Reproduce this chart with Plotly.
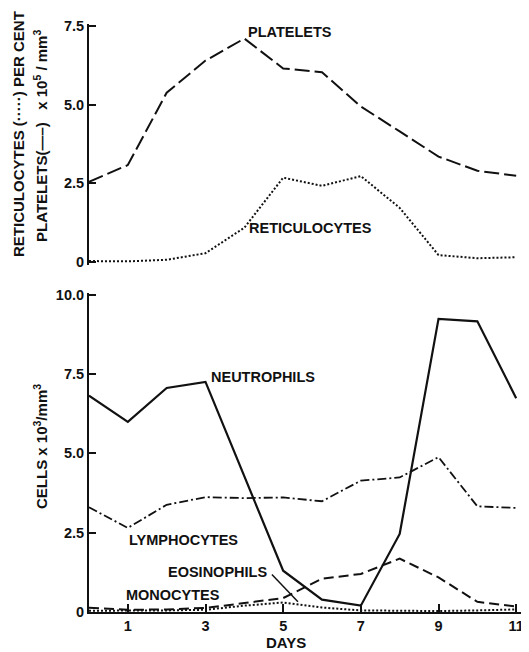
import plotly.graph_objects as go

# ---------------- data ----------------
days = [0, 1, 2, 3, 4, 5, 6, 7, 8, 9, 10, 11]
platelets = [2.55, 3.08, 5.38, 6.4, 7.1, 6.15, 6.03, 4.94, 4.15, 3.35, 2.9, 2.74]
reticulocytes = [0.03, 0.02, 0.07, 0.28, 1.09, 2.68, 2.42, 2.73, 1.72, 0.22, 0.12, 0.15]

neutrophil_days = [0, 1, 2, 3, 5, 6, 7, 8, 9, 10, 11]
neutrophils = [6.82, 5.99, 7.06, 7.25, 1.3, 0.39, 0.2, 2.46, 9.24, 9.16, 6.74]
lymphocytes = [3.3, 2.65, 3.38, 3.62, 3.59, 3.61, 3.49, 4.14, 4.24, 4.88, 3.33, 3.28]
eosinophils = [0.13, 0.07, 0.08, 0.13, 0.28, 0.44, 1.05, 1.2, 1.68, 1.09, 0.32, 0.17]
monocytes = [0.04, 0.04, 0.05, 0.07, 0.2, 0.3, 0.14, 0.05, 0.03, 0.03, 0.05, 0.08]

x_ticks = [1, 3, 5, 7, 9, 11]
x_ticktext = ["1", "3", "5", "7", "9", "11"]
top_ticks = [0, 2.5, 5.0, 7.5]
top_ticktext = ["0", "2.5", "5.0", "7.5"]
bot_ticks = [0, 2.5, 5.0, 7.5, 10.0]
bot_ticktext = ["0", "2.5", "5.0", "7.5", "10.0"]

# ---------------- layout geometry ----------------
# The page body has an 8px margin, so figure pixels = page pixels - 8.
OFF = 8
W, H = 529 - OFF, 652 - OFF
ML, MR, MT, MB = 89 - OFF, 0, 24 - OFF, 652 - 612
PW = W - ML - MR
PH = H - MT - MB
XMAX = 11.33

def frac(page_py):
    return (H - MB - (page_py - OFF)) / PH

top_range = [-0.1, 7.55]
top_px0, top_scale = 262.0, 31.47
top_dom = [frac(top_px0 - top_range[0] * top_scale), min(1.0, frac(top_px0 - top_range[1] * top_scale))]
bot_range = [0, 10.05]
bot_px0, bot_scale = 612.0, 31.73
bot_dom = [max(0.0, frac(bot_px0)), frac(bot_px0 - bot_range[1] * bot_scale)]

FONT = "Liberation Sans"
BLACK = "#111111"

fig = go.Figure()

# top panel
fig.add_trace(go.Scatter(x=days, y=platelets, mode="lines", xaxis="x", yaxis="y",
                         line=dict(color=BLACK, width=2, dash="15px,5px")))
fig.add_trace(go.Scatter(x=days, y=reticulocytes, mode="lines", xaxis="x", yaxis="y",
                         line=dict(color=BLACK, width=2, dash="2px,2px")))

# bottom panel
fig.add_trace(go.Scatter(x=neutrophil_days, y=neutrophils, mode="lines", xaxis="x2", yaxis="y2",
                         line=dict(color=BLACK, width=2.2)))
fig.add_trace(go.Scatter(x=days, y=lymphocytes, mode="lines", xaxis="x2", yaxis="y2",
                         line=dict(color=BLACK, width=1.8, dash="9px,3px,2px,3px")))
fig.add_trace(go.Scatter(x=days, y=eosinophils, mode="lines", xaxis="x2", yaxis="y2",
                         line=dict(color=BLACK, width=2, dash="10px,5px")))
fig.add_trace(go.Scatter(x=days, y=monocytes, mode="lines", xaxis="x2", yaxis="y2",
                         line=dict(color=BLACK, width=2, dash="2px,2px")))

tickfont = dict(family=FONT, size=14.5, color=BLACK)

def bold(lst):
    return ["<b>%s</b>" % t for t in lst]

fig.update_layout(
    width=W, height=H, autosize=False,
    margin=dict(l=ML, r=MR, t=MT, b=MB),
    paper_bgcolor="white", plot_bgcolor="white",
    showlegend=False,
    xaxis=dict(domain=[0, 1], range=[0, XMAX], anchor="y", visible=False),
    yaxis=dict(domain=top_dom, range=top_range, anchor="x",
               showline=True, linecolor=BLACK, linewidth=2, showgrid=False, zeroline=False,
               ticks="inside", ticklen=7, tickwidth=2, tickcolor=BLACK,
               tickvals=top_ticks, ticktext=bold(top_ticktext), tickfont=tickfont),
    xaxis2=dict(domain=[0, 1], range=[0, XMAX], anchor="y2",
                showline=True, linecolor=BLACK, linewidth=2, showgrid=False, zeroline=False,
                ticks="inside", ticklen=8, tickwidth=2, tickcolor=BLACK,
                tickvals=x_ticks, ticktext=bold(x_ticktext), tickfont=tickfont),
    yaxis2=dict(domain=bot_dom, range=bot_range, anchor="x2",
                showline=True, linecolor=BLACK, linewidth=2, showgrid=False, zeroline=False,
                ticks="inside", ticklen=7, tickwidth=2, tickcolor=BLACK,
                tickvals=bot_ticks, ticktext=bold(bot_ticktext), tickfont=tickfont),
)

lab = dict(family=FONT, size=14.5, color=BLACK)
ttl = dict(family=FONT, size=15, color=BLACK)

def px_x(page_px):
    return (page_px - OFF - ML) / PW

def px_y(page_py):
    return (H - MB - (page_py - OFF)) / PH

annos = [
    dict(text="<b>PLATELETS</b>", x=4.05, y=7.3, xref="x", yref="y", xanchor="left", yanchor="middle", font=lab),
    dict(text="<b>RETICULOCYTES</b>", x=4.08, y=1.08, xref="x", yref="y", xanchor="left", yanchor="middle", font=lab),
    dict(text="<b>NEUTROPHILS</b>", x=3.1, y=7.42, xref="x2", yref="y2", xanchor="left", yanchor="middle", font=lab),
    dict(text="<b>LYMPHOCYTES</b>", x=0.98, y=2.28, xref="x2", yref="y2", xanchor="left", yanchor="middle", font=lab),
    dict(text="<b>EOSINOPHILS</b>", x=1.98, y=1.25, xref="x2", yref="y2", xanchor="left", yanchor="middle", font=lab),
    dict(text="<b>MONOCYTES</b>", x=0.9, y=0.55, xref="x2", yref="y2", xanchor="left", yanchor="middle", font=lab),
    dict(text="<b>DAYS</b>", x=px_x(286), y=px_y(642), xref="paper", yref="paper",
         xanchor="center", yanchor="middle", font=ttl),
    dict(text="<b>RETICULOCYTES (·····) PER CENT</b>", x=px_x(19), y=px_y(134), xref="paper", yref="paper",
         xanchor="center", yanchor="middle", textangle=-90, font=ttl),
    dict(text="<b>PLATELETS(—–)   x 10<sup>5</sup> / mm<sup>3</sup></b>", x=px_x(40), y=px_y(136),
         xref="paper", yref="paper", xanchor="center", yanchor="middle", textangle=-90, font=ttl),
    dict(text="<b>CELLS x 10<sup>3</sup>/mm<sup>3</sup></b>", x=px_x(40), y=px_y(447),
         xref="paper", yref="paper", xanchor="center", yanchor="middle", textangle=-90, font=ttl),
]
for a in annos:
    fig.add_annotation(showarrow=False, **a)

# pointer from EOSINOPHILS label to the monocyte curve
fig.add_shape(type="line", xref="x2", yref="y2", x0=4.71, y0=1.18, x1=5.38, y1=0.32,
              line=dict(color=BLACK, width=1.5))

fig.write_html("out.html")
